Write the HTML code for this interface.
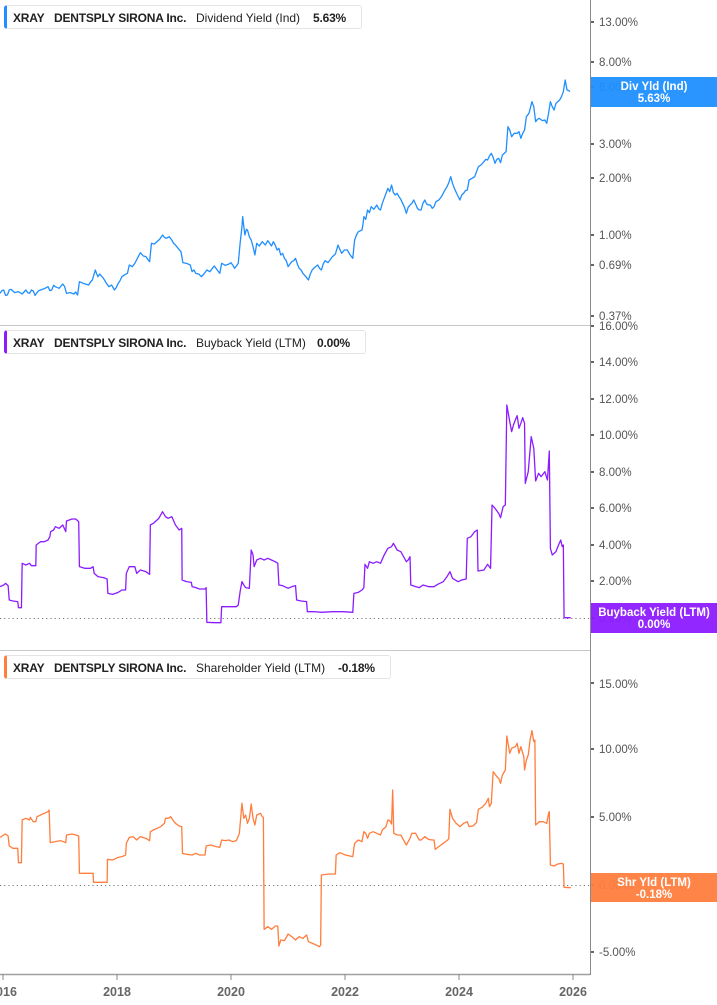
<!DOCTYPE html>
<html><head><meta charset="utf-8">
<style>
html,body{margin:0;padding:0;background:#fff;}
body{width:717px;height:1005px;overflow:hidden;position:relative;font-family:"Liberation Sans",sans-serif;}
.leg{position:absolute;left:4px;height:24px;border:1px solid #e4e4e4;border-radius:3px;background:#fff;box-sizing:border-box;}
.leg span{position:absolute;top:5px;font-size:12px;color:#222;white-space:nowrap;line-height:14px;}
.b{font-weight:bold;letter-spacing:-0.2px;}
</style></head><body>
<svg width="717" height="1005" viewBox="0 0 717 1005" style="position:absolute;left:0;top:0" font-family="Liberation Sans, sans-serif">
<!-- dividers -->
<line x1="0" y1="325.5" x2="590" y2="325.5" stroke="#c8c8c8" stroke-width="1"/>
<line x1="0" y1="650.5" x2="590" y2="650.5" stroke="#c8c8c8" stroke-width="1"/>
<!-- zero lines -->
<line x1="0" y1="618.5" x2="590" y2="618.5" stroke="#777" stroke-width="1" stroke-dasharray="1.2,3"/>
<line x1="0" y1="885.5" x2="590" y2="885.5" stroke="#777" stroke-width="1" stroke-dasharray="1.2,3"/>
<!-- axes -->
<line x1="590.5" y1="0" x2="590.5" y2="975" stroke="#8a8a8a" stroke-width="1"/>
<line x1="0" y1="974.5" x2="590" y2="974.5" stroke="#a0a0a0" stroke-width="1.5"/>
<g stroke="#888" stroke-width="1">
<line x1="3" y1="974" x2="3" y2="980"/><line x1="117" y1="974" x2="117" y2="980"/><line x1="231" y1="974" x2="231" y2="980"/>
<line x1="345" y1="974" x2="345" y2="980"/><line x1="459" y1="974" x2="459" y2="980"/><line x1="573" y1="974" x2="573" y2="980"/>
</g>
<g font-size="12.5" font-weight="bold" fill="#666" text-anchor="middle">
<text x="3" y="996">2016</text><text x="117" y="996">2018</text><text x="231" y="996">2020</text>
<text x="345" y="996">2022</text><text x="459" y="996">2024</text><text x="573" y="996">2026</text>
</g>
<!-- right tick marks -->
<g fill="#666">
<rect x="591" y="21" width="3" height="2"/><rect x="591" y="61" width="3" height="2"/><rect x="591" y="86" width="3" height="2"/>
<rect x="591" y="143" width="3" height="2"/><rect x="591" y="177" width="3" height="2"/><rect x="591" y="234" width="3" height="2"/>
<rect x="591" y="264" width="3" height="2"/><rect x="591" y="315" width="3" height="2"/>
<rect x="591" y="325" width="3" height="2"/><rect x="591" y="361" width="3" height="2"/><rect x="591" y="398" width="3" height="2"/>
<rect x="591" y="434" width="3" height="2"/><rect x="591" y="471" width="3" height="2"/><rect x="591" y="507" width="3" height="2"/>
<rect x="591" y="544" width="3" height="2"/><rect x="591" y="580" width="3" height="2"/><rect x="591" y="617" width="3" height="2"/>
<rect x="591" y="682" width="3" height="2"/><rect x="591" y="748" width="3" height="2"/><rect x="591" y="816" width="3" height="2"/>
<rect x="591" y="884" width="3" height="2"/><rect x="591" y="951" width="3" height="2"/>
</g>
<g font-size="11.5" fill="#555">
<text x="599" y="26">13.00%</text><text x="599" y="66">8.00%</text><text x="599" y="91">6.00%</text>
<text x="599" y="148">3.00%</text><text x="599" y="182">2.00%</text><text x="599" y="239">1.00%</text>
<text x="599" y="269">0.69%</text><text x="599" y="320">0.37%</text>
<text x="599" y="330">16.00%</text><text x="599" y="366">14.00%</text><text x="599" y="403">12.00%</text>
<text x="599" y="439">10.00%</text><text x="599" y="476">8.00%</text><text x="599" y="512">6.00%</text>
<text x="599" y="549">4.00%</text><text x="599" y="585">2.00%</text><text x="599" y="622">0.00%</text>
<text x="599" y="688">15.00%</text><text x="599" y="753">10.00%</text><text x="599" y="821">5.00%</text>
<text x="599" y="889">0.00%</text><text x="599" y="956">-5.00%</text>
</g>
<!-- top series -->
<g transform="translate(0 70) scale(0.3694 0.33333)">
<polyline fill="none" stroke="#1f8fff" stroke-width="1.3" vector-effect="non-scaling-stroke" stroke-linejoin="round" points="0,670 5,662 10,660 15,676 20,675 25,660 30,658 40,668 50,665 60,672 70,660 75,668 80,670 85,660 90,663 95,676 100,668 105,662 110,660 120,656 130,650 135,662 140,660 145,646 150,650 160,655 170,642 175,650 180,670 190,668 200,672 205,666 210,675 215,635 225,640 240,645 245,636 250,630 258,600 262,612 265,620 270,612 280,625 288,640 295,650 302,645 310,660 315,652 320,640 325,632 330,620 338,614 345,610 350,585 358,590 365,580 372,565 380,548 388,558 395,560 400,568 405,575 410,520 418,522 425,515 432,508 440,495 445,502 450,505 458,500 465,510 470,520 475,525 482,535 490,545 495,578 505,580 515,585 520,605 525,600 530,610 538,612 545,620 552,612 560,600 568,605 575,595 580,588 588,600 595,610 600,580 610,586 620,582 625,578 630,585 635,595 640,588 645,580 650,520 655,470 657,440 660,470 663,495 667,478 670,480 675,500 680,510 685,530 690,555 695,520 702,528 710,515 718,525 725,512 730,520 735,528 740,515 745,525 750,540 755,535 760,555 765,550 770,565 775,572 780,590 785,582 790,575 795,572 800,565 805,582 810,595 815,600 820,610 828,620 835,630 840,612 845,600 852,592 860,585 865,595 870,600 875,582 880,572 888,578 900,560 908,552 915,525 920,538 925,550 932,540 940,540 948,555 955,565 960,510 965,495 970,485 980,480 983,460 985,440 990,448 995,420 1000,428 1005,410 1012,418 1020,405 1025,416 1030,420 1035,400 1040,385 1045,370 1050,355 1055,365 1060,345 1065,368 1070,375 1075,370 1080,380 1085,388 1090,400 1095,412 1100,430 1105,412 1110,405 1115,400 1120,390 1125,402 1130,415 1135,420 1140,420 1145,400 1150,390 1155,402 1160,405 1165,405 1170,415 1175,410 1180,395 1188,390 1195,380 1202,365 1210,350 1215,338 1220,320 1225,340 1230,355 1237,372 1245,390 1250,375 1255,370 1260,362 1265,360 1270,330 1278,325 1285,320 1290,305 1295,290 1302,285 1310,275 1315,268 1320,270 1325,258 1330,250 1335,262 1340,280 1345,268 1350,265 1355,278 1360,255 1365,250 1370,245 1375,170 1380,180 1385,200 1392,190 1400,190 1405,185 1410,205 1415,190 1420,180 1425,140 1432,130 1440,95 1445,110 1450,155 1455,148 1460,145 1468,152 1475,150 1480,160 1485,130 1490,95 1495,110 1500,120 1505,100 1510,95 1515,90 1520,80 1525,65 1530,30 1535,60 1540,62 1543,65"/>
</g>
<!-- middle series -->
<g transform="translate(0 395) scale(0.3694 0.33333)">
<polyline fill="none" stroke="#8c1cff" stroke-width="1.3" vector-effect="non-scaling-stroke" stroke-linejoin="round" points="0,575 10,570 15,565 22,572 25,615 35,618 48,620 50,638 58,638 60,505 70,510 80,505 85,512 97,512 98,450 110,440 120,440 130,435 135,425 137,410 145,405 150,395 160,400 170,390 178,410 180,378 195,372 205,372 213,380 215,515 230,520 245,520 252,515 255,535 265,545 280,548 290,552 292,595 305,598 320,592 330,585 340,585 342,535 350,515 365,515 370,535 380,525 395,530 405,538 407,390 415,385 425,375 430,370 440,350 448,365 455,370 465,365 475,390 485,405 492,400 493,555 505,560 518,562 520,575 530,578 540,582 555,582 558,578 560,682 580,683 598,683 600,635 620,635 640,635 645,630 650,590 655,560 660,570 665,578 675,580 680,465 685,480 688,515 695,495 705,490 715,495 725,490 735,495 745,500 752,505 755,570 765,572 780,580 790,575 800,572 803,615 815,618 830,620 832,650 850,650 870,652 900,650 930,650 955,652 958,595 970,592 980,585 985,578 988,508 995,520 1000,500 1010,505 1020,500 1030,505 1040,480 1050,460 1060,455 1065,445 1075,465 1085,470 1095,490 1100,500 1105,495 1110,485 1112,570 1125,575 1135,578 1145,570 1160,575 1175,575 1185,568 1200,560 1210,545 1218,530 1225,550 1240,560 1250,555 1262,552 1265,430 1275,425 1285,410 1292,405 1294,528 1310,525 1320,508 1328,520 1332,330 1340,340 1350,355 1355,368 1362,335 1368,330 1372,30 1380,80 1385,110 1390,90 1395,75 1400,62 1405,100 1410,85 1415,68 1420,85 1422,265 1430,230 1438,125 1445,160 1450,258 1458,235 1465,245 1475,230 1482,255 1487,168 1490,460 1495,480 1505,470 1512,450 1518,435 1522,455 1525,450 1527,668 1545,668"/>
</g>
<!-- bottom series -->
<g transform="translate(0 720) scale(0.3694 0.33333)">
<polyline fill="none" stroke="#ff7d3d" stroke-width="1.3" vector-effect="non-scaling-stroke" stroke-linejoin="round" points="0,352 10,345 15,342 22,348 25,378 35,385 48,385 50,428 58,428 60,300 70,295 80,300 82,292 90,305 97,305 100,290 110,285 120,280 130,275 133,270 136,368 150,365 165,362 178,368 180,345 195,342 205,345 213,348 215,460 230,460 252,460 253,487 270,487 290,487 291,418 305,420 320,412 330,410 340,405 342,370 350,352 360,350 370,360 380,350 395,355 405,362 407,335 415,330 425,325 435,320 445,310 448,295 455,295 462,290 468,300 475,310 485,318 492,320 494,400 505,403 520,405 530,400 540,405 555,405 558,378 570,375 585,380 595,382 600,360 610,362 620,360 630,365 640,362 648,340 655,250 660,295 665,285 670,310 675,295 680,252 685,295 690,315 695,285 705,280 710,290 713,292 715,628 725,620 735,628 745,618 752,618 755,678 760,660 770,662 780,642 790,650 800,660 810,650 820,655 830,645 835,665 850,672 865,680 868,675 870,465 890,462 908,462 910,405 920,398 935,405 955,410 960,370 970,360 980,365 985,335 990,340 995,355 1000,340 1010,335 1020,340 1030,345 1035,330 1045,320 1050,300 1055,302 1060,312 1063,210 1066,340 1075,345 1085,345 1095,365 1100,375 1110,355 1115,340 1125,340 1135,360 1140,360 1150,350 1160,358 1170,360 1175,360 1178,388 1190,378 1200,370 1212,360 1215,355 1218,268 1225,295 1235,310 1245,320 1255,310 1265,305 1270,320 1280,318 1290,308 1295,268 1305,262 1315,250 1322,235 1325,260 1330,250 1335,155 1345,170 1350,175 1355,190 1360,165 1368,150 1372,48 1380,100 1385,85 1395,80 1400,70 1405,100 1410,80 1418,110 1420,150 1425,120 1430,105 1435,60 1440,32 1445,65 1448,60 1450,315 1460,305 1470,305 1480,310 1485,280 1487,275 1490,435 1500,438 1510,432 1520,430 1525,432 1527,502 1545,503"/>
</g>
<!-- value boxes -->
<rect x="591" y="77" width="126" height="30" fill="#1f8fff" fill-opacity="0.95"/>
<rect x="591" y="603" width="126" height="30" fill="#8c1cff" fill-opacity="0.95"/>
<rect x="591" y="873" width="126" height="29" fill="#ff7d3d" fill-opacity="0.95"/>
<g font-size="11.5" font-weight="bold" fill="#fff" text-anchor="middle">
<text x="654" y="90">Div Yld (Ind)</text><text x="654" y="102">5.63%</text>
<text x="654" y="616">Buyback Yield (LTM)</text><text x="654" y="628">0.00%</text>
<text x="654" y="886">Shr Yld (LTM)</text><text x="654" y="898">-0.18%</text>
</g>
</svg>

<div class="leg" style="top:5px;width:358px;border-left:3px solid #1f8fff;">
<span class="b" style="left:6px">XRAY</span><span class="b" style="left:47px">DENTSPLY SIRONA Inc.</span><span style="left:189px">Dividend Yield (Ind)</span><span class="b" style="left:306px">5.63%</span>
</div>
<div class="leg" style="top:330px;width:362px;border-left:3px solid #8c1cff;">
<span class="b" style="left:6px">XRAY</span><span class="b" style="left:47px">DENTSPLY SIRONA Inc.</span><span style="left:189px">Buyback Yield (LTM)</span><span class="b" style="left:310px">0.00%</span>
</div>
<div class="leg" style="top:655px;width:387px;border-left:3px solid #ff7d3d;">
<span class="b" style="left:6px">XRAY</span><span class="b" style="left:47px">DENTSPLY SIRONA Inc.</span><span style="left:189px">Shareholder Yield (LTM)</span><span class="b" style="left:331px">-0.18%</span>
</div>
</body></html>
